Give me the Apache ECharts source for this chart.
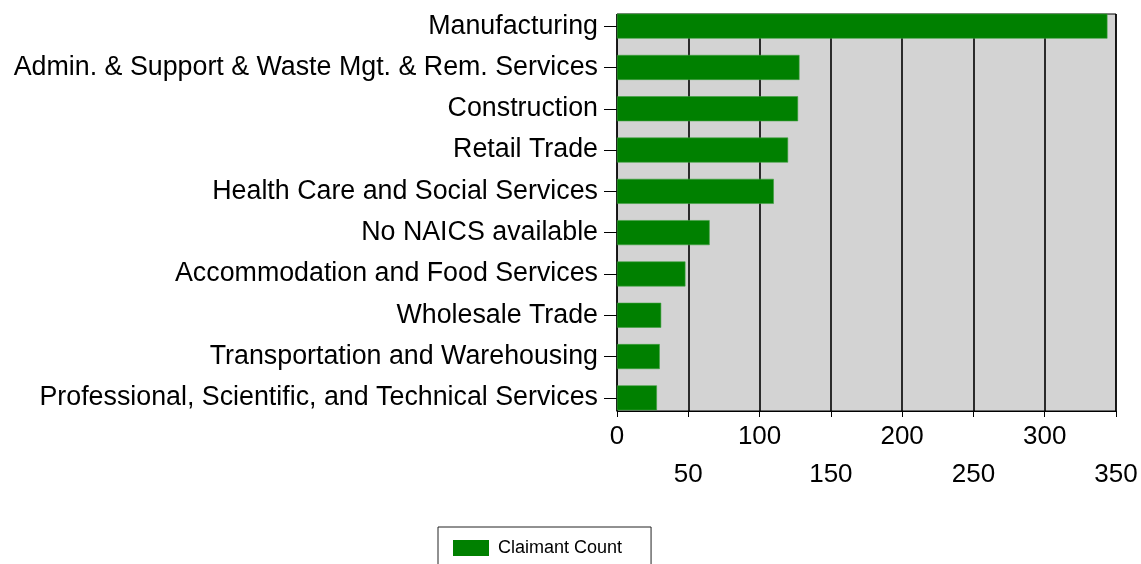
<!DOCTYPE html>
<html>
<head>
<meta charset="utf-8">
<script src="https://cdn.jsdelivr.net/npm/echarts@6/dist/echarts.min.js"></script>
<style>
html,body{margin:0;padding:0;background:#fff;}
#chart{width:1141px;height:564px;}
</style>
</head>
<body>
<div id="chart"></div>
<script>
const categories = [
  "Manufacturing",
  "Admin. & Support & Waste Mgt. & Rem. Services",
  "Construction",
  "Retail Trade",
  "Health Care and Social Services",
  "No NAICS available",
  "Accommodation and Food Services",
  "Wholesale Trade",
  "Transportation and Warehousing",
  "Professional, Scientific, and Technical Services"
];
const claimantCount = [344, 128, 127, 120, 110, 65, 48, 31, 30, 28];
const seriesName = "Claimant Count";
const axisMin = 0, axisMax = 350, axisInterval = 50;

const FONT = "'Liberation Sans', Arial, sans-serif";
const chart = echarts.init(document.getElementById('chart'), null, {renderer: 'canvas'});
chart.setOption({
  animation: false,
  backgroundColor: '#ffffff',
  grid: [
    {left: 617, width: 499, top: 5.5, height: 413, show: false},
    {left: 617, width: 499, top: 14, height: 397, show: true, z: 0,
     backgroundColor: '#d3d3d3', borderColor: '#000', borderWidth: 1}
  ],
  xAxis: [
    {gridIndex: 0, type: 'value', min: axisMin, max: axisMax, interval: axisInterval, show: false},
    {gridIndex: 1, type: 'value', min: axisMin, max: axisMax, interval: axisInterval,
     axisLine: {show: true, lineStyle: {color: '#000', width: 1}},
     axisTick: {show: true, length: 6, lineStyle: {color: '#000', width: 1}},
     splitLine: {show: true, lineStyle: {color: '#000', width: 1.6}},
     axisLabel: {
       margin: 7, color: '#000', fontFamily: FONT, fontSize: 26, lineHeight: 38,
       formatter: function (v, i) { return (i % 2 === 1) ? '\n' + v : String(v); }
     }}
  ],
  yAxis: [
    {gridIndex: 0, type: 'category', inverse: true, data: categories,
     axisLine: {show: false},
     axisTick: {show: true, alignWithLabel: true, length: 13, lineStyle: {color: '#000', width: 1}},
     axisLabel: {margin: 19, color: '#000', fontFamily: FONT, fontSize: 26.8},
     splitLine: {show: false}},
    {gridIndex: 1, type: 'value', show: false}
  ],
  legend: {
    show: true, left: 438, top: 527, orient: 'horizontal',
    borderColor: '#222', borderWidth: 1, borderRadius: 0,
    padding: [12, 29, 12, 15],
    itemWidth: 36, itemHeight: 16, icon: 'rect',
    itemStyle: {borderWidth: 0},
    textStyle: {color: '#000', fontFamily: FONT, fontSize: 18, padding: [0, 0, 0, 4]},
    data: [seriesName]
  },
  series: [{
    name: seriesName, type: 'bar', xAxisIndex: 0, yAxisIndex: 0,
    data: claimantCount, barWidth: 25, z: 3,
    itemStyle: {color: '#008000', borderColor: '#3f9f3f', borderWidth: 0.6}
  }]
});
</script>
</body>
</html>
